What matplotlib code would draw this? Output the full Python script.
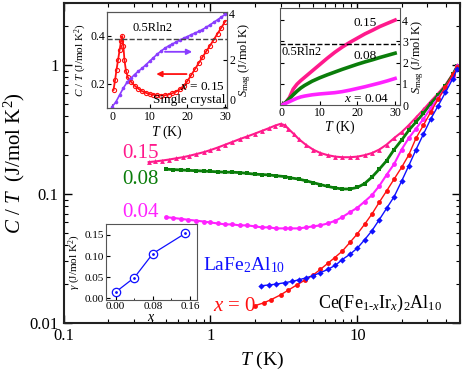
import matplotlib
matplotlib.use("Agg")
import matplotlib.pyplot as plt
import numpy as np

plt.rcParams['font.family'] = ['Liberation Serif', 'DejaVu Serif']
plt.rcParams['mathtext.fontset'] = 'custom'
plt.rcParams['mathtext.rm'] = 'Liberation Serif'
plt.rcParams['mathtext.it'] = 'Liberation Serif:italic'
plt.rcParams['mathtext.bf'] = 'Liberation Serif:bold'

# ---------------- main panel data: C/T vs T ----------------
T_x015 = [0.38, 0.42, 0.47, 0.52, 0.58, 0.65, 0.72, 0.8, 0.9, 1.0, 1.12, 1.26, 1.41, 1.58, 1.78, 2.0, 2.24,
          2.5, 2.75, 3.0, 3.2, 3.4, 3.7, 4.0, 4.5, 5.0, 5.6, 6.3, 7.1, 7.9, 8.9, 10, 11.2, 12.6, 14.1, 15.8,
          17.8, 20, 22.4, 25.1, 28.2, 31.6, 35.5, 39.8, 44.7, 48]
CT_x015 = [0.176, 0.178, 0.181, 0.184, 0.188, 0.192, 0.197, 0.203, 0.210, 0.218, 0.228, 0.240, 0.252, 0.265,
           0.278, 0.292, 0.307, 0.322, 0.337, 0.348, 0.340, 0.318, 0.290, 0.265, 0.238, 0.220, 0.207, 0.199,
           0.194, 0.192, 0.192, 0.194, 0.199, 0.207, 0.22, 0.24, 0.27, 0.30, 0.34, 0.39, 0.45, 0.52, 0.60,
           0.70, 0.85, 0.99]

T_x008 = [0.5, 0.56, 0.63, 0.7, 0.8, 0.9, 1.0, 1.12, 1.26, 1.41, 1.58, 1.78, 2.0, 2.24, 2.5, 2.8, 3.2, 3.5,
          4.0, 4.5, 5.0, 5.6, 6.3, 7.1, 7.9, 8.9, 10, 11.2, 12.6, 14.1, 15.8, 17.8, 20, 22.4, 25.1, 28.2,
          31.6, 35.5, 39.8, 44.7, 48]
CT_x008 = [0.155, 0.154, 0.153, 0.152, 0.151, 0.150, 0.149, 0.148, 0.147, 0.147, 0.146, 0.144, 0.142, 0.141,
           0.140, 0.138, 0.136, 0.133, 0.130, 0.126, 0.122, 0.118, 0.114, 0.111, 0.109, 0.109, 0.112, 0.120,
           0.135, 0.155, 0.18, 0.22, 0.26, 0.31, 0.36, 0.42, 0.50, 0.58, 0.68, 0.84, 0.98]

T_x004 = [0.5, 0.56, 0.63, 0.7, 0.8, 0.9, 1.0, 1.12, 1.26, 1.41, 1.58, 1.78, 2.0, 2.24, 2.5, 2.8, 3.2, 3.5,
          4.0, 4.5, 5.0, 5.6, 6.3, 7.1, 7.9, 8.9, 10, 11.2, 12.6, 14.1, 15.8, 17.8, 20, 22.4, 25.1, 28.2,
          31.6, 35.5, 39.8, 44.7, 48]
CT_x004 = [0.066, 0.065, 0.064, 0.063, 0.062, 0.061, 0.060, 0.059, 0.058, 0.058, 0.057, 0.057, 0.056, 0.055,
           0.055, 0.054, 0.054, 0.054, 0.054, 0.055, 0.056, 0.057, 0.059, 0.062, 0.066, 0.072, 0.078, 0.087,
           0.098, 0.115, 0.14, 0.17, 0.22, 0.27, 0.32, 0.38, 0.46, 0.55, 0.66, 0.82, 0.97]

T_x0 = [2.0, 2.3, 2.6, 3.0, 3.4, 3.9, 4.4, 5.0, 5.6, 6.3, 7.0, 7.9, 8.9, 10, 11.2, 12.6, 14.1, 15.8, 17.8,
        20, 22.4, 25.1, 28.2, 31.6, 35.5, 39.8, 44.7, 48]
CT_x0 = [0.0136, 0.0143, 0.0152, 0.0165, 0.0180, 0.0198, 0.0215, 0.0235, 0.026, 0.029, 0.032, 0.036, 0.042,
         0.049, 0.058, 0.070, 0.086, 0.105, 0.13, 0.16, 0.20, 0.27, 0.34, 0.43, 0.54, 0.67, 0.84, 0.96]

T_La = [2.2, 2.5, 2.8, 3.2, 3.6, 4.0, 4.5, 5.0, 5.6, 6.3, 7.1, 7.9, 8.9, 10, 11.2, 12.6, 14.1, 15.8, 17.8,
        20, 22.4, 25.1, 28.2, 31.6, 35.5, 39.8, 44.7, 48]
CT_La = [0.0194, 0.0197, 0.0200, 0.0205, 0.0210, 0.0216, 0.0224, 0.0233, 0.0245, 0.026, 0.028, 0.031, 0.034,
         0.038, 0.044, 0.052, 0.063, 0.077, 0.095, 0.125, 0.165, 0.22, 0.29, 0.38, 0.48, 0.61, 0.78, 0.93]

# ---------------- inset 1: single crystal x = 0.15 ----------------
T_sc = [0.4, 0.8, 1.2, 1.6, 2.0, 2.4, 2.7, 3.0, 3.3, 3.7, 4.2, 5, 6, 7, 8, 9, 10, 11, 12, 13, 14, 15, 16, 17,
        18, 19, 20, 21, 22, 23, 24, 25, 26, 27, 28, 29, 30]
CT_sc = [0.175, 0.215, 0.26, 0.30, 0.34, 0.38, 0.40, 0.36, 0.30, 0.255, 0.228, 0.21, 0.193, 0.180, 0.170,
         0.163, 0.158, 0.155, 0.153, 0.152, 0.153, 0.156, 0.161, 0.168, 0.178, 0.192, 0.212, 0.237, 0.262,
         0.287, 0.312, 0.336, 0.36, 0.385, 0.41, 0.435, 0.46]
T_Ssc = [0, 1, 2, 3, 4, 5, 6, 7, 8, 9, 10, 11, 12, 13, 14, 15, 16, 17, 18, 19, 20, 21, 22, 23, 24, 25, 26, 27,
         28, 29, 30]
S_sc = [0, 0.2, 0.5, 0.8, 1.05, 1.22, 1.38, 1.52, 1.65, 1.8, 1.95, 2.1, 2.25, 2.38, 2.5, 2.6, 2.68, 2.77, 2.85,
        2.93, 3.0, 3.08, 3.15, 3.22, 3.3, 3.4, 3.5, 3.61, 3.72, 3.83, 3.95]

# ---------------- inset 2: S_mag for polycrystals ----------------
T_S = [0, 1, 2, 3, 4, 5, 6, 8, 10, 12, 14, 16, 18, 20, 22, 24, 26, 28, 30]
S_015 = [0, 0.1, 0.35, 0.75, 0.98, 1.15, 1.3, 1.6, 1.9, 2.2, 2.48, 2.73, 2.95, 3.15, 3.35, 3.52, 3.7, 3.85, 4.0]
S_008 = [0, 0.12, 0.3, 0.48, 0.65, 0.8, 0.92, 1.12, 1.28, 1.42, 1.55, 1.68, 1.8, 1.92, 2.03, 2.13, 2.24, 2.34, 2.44]
S_004 = [0, 0.08, 0.16, 0.24, 0.32, 0.38, 0.42, 0.48, 0.52, 0.55, 0.58, 0.63, 0.7, 0.78, 0.86, 0.95, 1.04, 1.14, 1.25]
S_half_Rln2 = 0.5 * 8.314 * np.log(2)

# ---------------- inset 3: gamma vs x ----------------
x_conc = [0.0, 0.04, 0.08, 0.15]
gamma = [0.015, 0.049, 0.106, 0.154]

PINK = '#ff1a8c'
GREEN = '#0a7d0a'
MAG = '#ff22ff'
RED = '#ff1010'
BLUE = '#1010ff'
PURPLE = '#8a3dff'

W, H = 463, 371
fig = plt.figure(figsize=(W / 100, H / 100), dpi=100)

def frac(l, r, t, b):
    return [l / W, (H - b) / H, (r - l) / W, (b - t) / H]

ax = fig.add_axes(frac(63.5, 460, 3, 323))
ax.set_xscale('log')
ax.set_yscale('log')
ax.set_xlim(0.1, 50)
ax.set_ylim(0.01, 3)

ax.plot(T_x015, CT_x015, '-', color=PINK, lw=1.5, marker='^', ms=3.5, mew=0)
ax.plot(T_x008, CT_x008, '-', color=GREEN, lw=2.0, marker='s', ms=3, mew=0)
ax.plot(T_x004, CT_x004, '-', color=MAG, lw=1.5, marker='o', ms=3.5, mew=0)
ax.plot(T_x0, CT_x0, '-', color=RED, lw=1.0, marker='o', ms=3.5, mew=0)
ax.plot(T_La, CT_La, '-', color=BLUE, lw=1.0, marker='D', ms=3.2, mew=0)

for s in ax.spines.values():
    s.set_linewidth(1.5)
    s.set_color('#222222')
ax.tick_params(which='both', direction='in', top=True, right=True, labelsize=12)
ax.tick_params(which='major', length=6, width=1)
ax.tick_params(which='minor', length=3, width=0.8)
ax.set_xticks([0.1, 1, 10])
ax.set_xticklabels(['0.1', '1', '10'])
ax.set_yticks([0.01, 0.1, 1])
ax.set_yticklabels(['0.01', '0.1', '1'])
ax.set_xlabel('$T$ (K)', fontsize=14, labelpad=4)
ax.set_ylabel('$C$ / $T$  (J/mol K$^2$)', fontsize=15, labelpad=2)

ax.text(0.148, 0.531, '0.15', color=PINK, fontsize=15, transform=ax.transAxes, va='center')
ax.text(0.148, 0.447, '0.08', color=GREEN, fontsize=15, transform=ax.transAxes, va='center')
ax.text(0.148, 0.344, '0.04', color=MAG, fontsize=15, transform=ax.transAxes, va='center')
ax.text(0.352, 0.181, 'LaFe$_2$Al$_{10}$', color=BLUE, fontsize=14, transform=ax.transAxes, va='center')
ax.text(0.377, 0.053, '$x$ = 0', color=RED, fontsize=15, transform=ax.transAxes, va='center')
ax.text(0.642, 0.0625, 'Ce(Fe$_{1\u2010x}$Ir$_x$)$_2$Al$_{10}$', color='black', fontsize=13,
        transform=ax.transAxes, va='center')

def style_inset(a, ls=8.5):
    for s in a.spines.values():
        s.set_linewidth(0.8)
        s.set_color('#555555')
    a.tick_params(which='both', direction='in', labelsize=ls, pad=1.5)
    a.tick_params(which='major', length=3)
    a.tick_params(which='minor', length=1.5)

# inset 1
a1 = fig.add_axes(frac(107, 227, 12, 108))
a1.set_xlim(-1.33, 30.5)
a1.set_ylim(0.1, 0.5)
a1.plot(T_sc, CT_sc, '-', color=RED, lw=1.3, marker='o', ms=3, mfc='none', mew=0.8)
a1.set_yticks([0.2, 0.4])
a1.set_yticklabels(['0.2', '0.4'])
a1.set_xticks([0, 10, 20, 30])
a1.set_xlabel('$T$ (K)', fontsize=10, labelpad=0)
a1.set_ylabel('$C$ / $T$ (J/mol K$^2$)', fontsize=8, labelpad=1)
style_inset(a1)
a1.tick_params(axis='x', pad=2.5)
a1b = a1.twinx()
a1b.set_ylim(-0.05, 4.05)
a1b.plot(T_Ssc, S_sc, '-', color=PURPLE, lw=1.2, marker='o', ms=2.6, mew=0)
a1b.axhline(S_half_Rln2, color='#444444', lw=1, ls='--')
a1b.set_yticks([0, 2, 4])
a1b.set_ylabel('$S_{\\mathrm{mag}}$ (J/mol K)', fontsize=9, labelpad=1)
style_inset(a1b)
for lab in a1b.get_yticklabels():
    if lab.get_text() == '0':
        lab.set_va('bottom')
a1b.text(5.5, 3.1, '0.5Rln2', fontsize=9, va='bottom')
a1b.annotate('', xy=(22.0, 2.35), xytext=(13.3, 2.35),
             arrowprops=dict(arrowstyle='-|>', color=PURPLE, lw=1.3, mutation_scale=8))
a1b.annotate('', xy=(11.0, 1.4), xytext=(20.5, 1.4),
             arrowprops=dict(arrowstyle='-|>', color=RED, lw=1.3, mutation_scale=8))
a1b.text(30, 0.85, '$x$ = 0.15', fontsize=9.5, ha='right', va='center')
a1b.text(30, 0.3, 'Single crystal', fontsize=9.5, ha='right', va='center')

# inset 2
a2 = fig.add_axes(frac(280, 400, 8, 105))
a2.set_xlim(-0.5, 31.3)
a2.set_ylim(0, 4.57)
a2.plot(T_S, S_015, '-', color=PINK, lw=2.6)
a2.plot(T_S, S_008, '-', color=GREEN, lw=2.6)
a2.plot(T_S, S_004, '-', color=MAG, lw=2.6)
a2.axhline(S_half_Rln2, color='black', lw=1, ls='--')
a2.set_xticks([0, 10, 20, 30])
a2.set_yticks([0, 1, 2, 3, 4])
a2.yaxis.tick_right()
a2.yaxis.set_label_position('right')
a2.set_xlabel('$T$ (K)', fontsize=10, labelpad=0)
a2.set_ylabel('$S_{\\mathrm{mag}}$ (J/mol K)', fontsize=9, labelpad=1)
style_inset(a2)
a2.tick_params(which='both', left=True, right=True)
a2.text(0.0, 2.8, '0.5Rln2', fontsize=9, va='top')
a2.text(22, 3.85, '0.15', fontsize=9.5, ha='center', va='center')
a2.text(22, 2.3, '0.08', fontsize=9.5, ha='center', va='center')
a2.text(22.5, 0.3, '$x$ = 0.04', fontsize=9.5, ha='center', va='center')

# inset 3
a3 = fig.add_axes(frac(106, 197, 224, 300))
a3.set_xlim(-0.021, 0.175)
a3.set_ylim(-0.004, 0.176)
a3.plot(x_conc, gamma, '-', color=BLUE, lw=0.9, marker='o', ms=6, mfc='white', mec=BLUE, mew=0.9)
a3.plot(x_conc, gamma, linestyle='none', color=BLUE, marker='.', ms=2)
a3.set_xticks([0.0, 0.08, 0.16])
a3.set_xticklabels(['0.00', '0.08', '0.16'])
a3.set_xticks([0.04, 0.12], minor=True)
a3.set_yticks([0.0, 0.05, 0.10, 0.15])
a3.set_yticklabels(['0.00', '0.05', '0.10', '0.15'])
a3.set_xlabel('$x$', fontsize=10, labelpad=0)
a3.set_ylabel('$\\gamma$ (J/mol K$^2$)', fontsize=8, labelpad=1)
style_inset(a3, 8)

fig.savefig('out.png', dpi=100)
